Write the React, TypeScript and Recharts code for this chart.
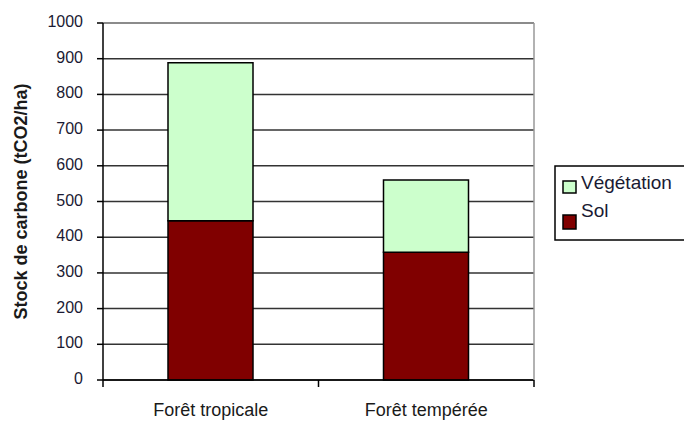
import React from "react";
import {
  BarChart,
  Bar,
  XAxis,
  YAxis,
  CartesianGrid,
  ReferenceLine,
} from "recharts";

const categories = ["Forêt tropicale", "Forêt tempérée"];
const solValues = [446, 358];
const vegetationValues = [443, 202];
const yTicks = [0, 100, 200, 300, 400, 500, 600, 700, 800, 900, 1000];
const legendItems = [
  { label: "Végétation", color: "#CCFFCC" },
  { label: "Sol", color: "#800000" },
];

const data = categories.map((c, i) => ({
  name: c,
  sol: solValues[i],
  vegetation: vegetationValues[i],
}));

const W = 684;
const H = 421;
const M_TOP = 23;
const M_RIGHT = 149;
const Y_W = 103;
const X_H = 41;
const PLOT_BOTTOM = H - X_H;
const BAND = (W - M_RIGHT - 1 - Y_W) / categories.length;
const FONT = "'Liberation Sans', Arial, sans-serif";

const XTick = (props: any) => {
  const { x, payload, index } = props;
  return (
    <g>
      {index === 0 && (
        <line x1={x - BAND / 2} x2={x - BAND / 2} y1={PLOT_BOTTOM} y2={PLOT_BOTTOM + 7} stroke="#000" strokeWidth={1.5} />
      )}
      <line x1={x + BAND / 2} x2={x + BAND / 2} y1={PLOT_BOTTOM} y2={PLOT_BOTTOM + 7} stroke="#000" strokeWidth={1.5} />
      <text x={x} y={PLOT_BOTTOM + 36} textAnchor="middle" fontFamily={FONT} fontSize={18} fill="#1a1a1a">
        {payload.value}
      </text>
    </g>
  );
};

const YTick = (props: any) => {
  const { x, y, payload } = props;
  return (
    <text x={x} y={y} dy={4} textAnchor="end" fontFamily={FONT} fontSize={16} fill="#1a1a33">
      {payload.value}
    </text>
  );
};

const LegendBox = () => (
  <svg width={140} height={77} style={{ display: "block" }}>
    <rect x={1} y={1} width={150} height={74} fill="#fff" stroke="#000" strokeWidth={1.5} />
    {legendItems.map((it, i) => (
      <g key={it.label}>
        <rect x={9} y={16 + i * 34} width={13} height={12 + i * 2} fill={it.color} stroke="#000" strokeWidth={1.5} />
        <text x={27} y={24 + i * 28} fontFamily={FONT} fontSize={19} fill="#1a1a33">{it.label}</text>
      </g>
    ))}
  </svg>
);

export default function App() {
  return (
    <div style={{ position: "absolute", left: 0, top: 0, width: W, height: H, background: "#fff", overflow: "hidden" }}>
      <BarChart
        width={W}
        height={H}
        data={data}
        margin={{ top: M_TOP, right: M_RIGHT, bottom: 0, left: 0 }}
        barSize={85}
      >
        <CartesianGrid vertical={false} stroke="#333" strokeWidth={1.5} />
        <XAxis
          dataKey="name"
          height={X_H}
          axisLine={{ stroke: "#000", strokeWidth: 1.5 }}
          tickLine={false}
          tick={<XTick />}
          interval={0}
        />
        <YAxis
          width={Y_W}
          domain={[0, 1000]}
          ticks={yTicks}
          interval={0}
          axisLine={{ stroke: "#000", strokeWidth: 1.5 }}
          tickLine={{ stroke: "#000", strokeWidth: 1.5 }}
          tickSize={6}
          tickMargin={14}
          tick={<YTick />}
          label={{
            value: "Stock de carbone (tCO2/ha)",
            angle: -90,
            position: "insideLeft",
            dx: 16,
            style: { fontFamily: FONT, fontSize: 18, fontWeight: "bold", fill: "#1a1a1a", textAnchor: "middle" },
          }}
        />
        <YAxis
          yAxisId="r"
          orientation="right"
          width={1}
          domain={[0, 1000]}
          ticks={yTicks}
          tick={false}
          tickLine={false}
          axisLine={{ stroke: "#999", strokeWidth: 1.5 }}
        />
        <ReferenceLine y={1000} stroke="#999" strokeWidth={1.5} />
        <Bar dataKey="sol" stackId="a" fill="#800000" stroke="#000" strokeWidth={1.5} isAnimationActive={false} />
        <Bar dataKey="vegetation" stackId="a" fill="#CCFFCC" stroke="#000" strokeWidth={1.5} isAnimationActive={false} />
      </BarChart>
      <div style={{ position: "absolute", left: 554, top: 165 }}>
        <LegendBox />
      </div>
    </div>
  );
}
